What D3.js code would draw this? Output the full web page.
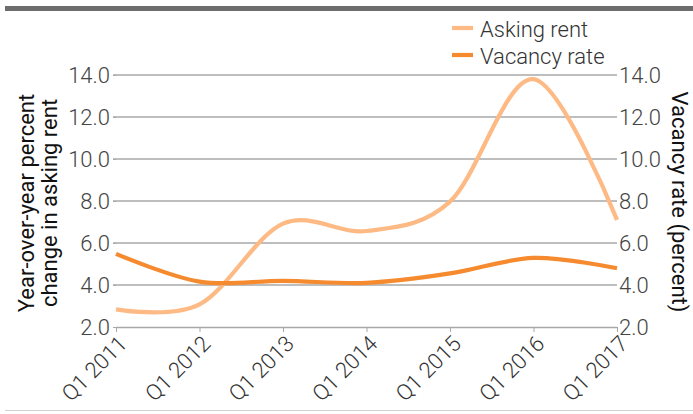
<!DOCTYPE html>
<html><head><meta charset="utf-8">
<script src="https://cdn.jsdelivr.net/npm/d3@7"></script>
<style>body{margin:0;background:#fff}svg{display:block}</style>
</head><body>
<script>
const categories = ["Q1 2011","Q1 2012","Q1 2013","Q1 2014","Q1 2015","Q1 2016","Q1 2017"];
const askingRent = [2.84, 3.08, 6.92, 6.57, 7.97, 13.8, 7.1];
const vacancyRate = [5.48, 4.16, 4.2, 4.1, 4.55, 5.29, 4.8];
const yTicks = [2, 4, 6, 8, 10, 12, 14];
const seriesNames = ["Asking rent", "Vacancy rate"];
const colors = ["#fdba84", "#f58a2f"];

const W = 693, H = 414;
const svg = d3.select("body").append("svg").attr("width", W).attr("height", H);
const font = "Roboto, 'Helvetica Neue', 'Liberation Sans', sans-serif";

svg.append("rect").attr("x", 5).attr("y", 6).attr("width", W - 5).attr("height", 5).attr("fill", "#6d6d6d");
svg.append("rect").attr("x", 5).attr("y", 410).attr("width", W - 5).attr("height", 1).attr("fill", "#d0d0d0");

const x = d3.scalePoint().domain(categories).range([116, 617]);
const yL = d3.scaleLinear().domain([2, 14]).range([327, 75]);
const yR = d3.scaleLinear().domain([2, 14]).range([327, 75]);

// grid
svg.append("g").selectAll("line").data(yTicks.filter(d => d > 2)).join("line")
  .attr("x1", 113).attr("x2", 617).attr("y1", d => yL(d)).attr("y2", d => yL(d))
  .attr("stroke", "#a8a8a8").attr("stroke-width", 1.3);

// x axis
const xAxis = svg.append("g").attr("transform", "translate(0,327)")
  .call(d3.axisBottom(x).tickSize(5).tickSizeOuter(0));
xAxis.select(".domain").attr("stroke", "#a8a8a8").attr("stroke-width", 1.3);
xAxis.selectAll(".tick line").attr("stroke", "#a8a8a8");
xAxis.selectAll(".tick text")
  .attr("font-family", font).attr("font-weight", 300).attr("font-size", 22).attr("fill", "#333")
  .attr("text-anchor", "end").attr("x", 0).attr("y", 0).attr("dy", 0)
  .attr("transform", "translate(12,18) rotate(-45)");

// left axis
const yAxisL = svg.append("g").attr("transform", "translate(116,0)")
  .call(d3.axisLeft(yL).tickValues(yTicks).tickFormat(d3.format(".1f")).tickSize(3).tickPadding(3));
yAxisL.select(".domain").remove();
yAxisL.selectAll(".tick line").attr("stroke", "#a8a8a8");
yAxisL.selectAll(".tick text").attr("font-family", font).attr("font-weight", 300).attr("font-size", 22).attr("fill", "#444");

// right axis
const yAxisR = svg.append("g").attr("transform", "translate(617,0)")
  .call(d3.axisRight(yR).tickValues(yTicks).tickFormat(d3.format(".1f")).tickSize(0).tickPadding(2));
yAxisR.select(".domain").remove();
yAxisR.selectAll(".tick text").attr("font-family", font).attr("font-weight", 300).attr("font-size", 22).attr("fill", "#444");

// axis titles
const lt = svg.append("text").attr("transform", "translate(0,203) rotate(-90)")
  .attr("text-anchor", "middle").attr("font-family", font).attr("font-size", 22).attr("fill", "#111");
lt.append("tspan").attr("x", 0).attr("y", 34).text("Year-over-year percent");
lt.append("tspan").attr("x", 0).attr("y", 57).text("change in asking rent");
svg.append("text").attr("transform", "translate(672,202) rotate(90)")
  .attr("text-anchor", "middle").attr("font-family", font).attr("font-size", 22).attr("fill", "#111")
  .text("Vacancy rate (percent)");

// lines
const line = (scale) => d3.line().x((d, i) => x(categories[i])).y(d => scale(d)).curve(d3.curveCardinal.tension(0));
svg.append("path").datum(askingRent).attr("d", line(yL))
  .attr("fill", "none").attr("stroke", colors[0]).attr("stroke-width", 4.2);
svg.append("path").datum(vacancyRate).attr("d", line(yR))
  .attr("fill", "none").attr("stroke", colors[1]).attr("stroke-width", 4.2);

// legend
const lg = svg.append("g").selectAll("g").data(seriesNames).join("g")
  .attr("transform", (d, i) => `translate(452,${28 + i * 27})`);
lg.append("line").attr("x1", 0).attr("x2", 21).attr("y1", 0).attr("y2", 0)
  .attr("stroke", (d, i) => colors[i]).attr("stroke-width", 4.2);
lg.append("text").attr("x", 28).attr("y", 9).text(d => d)
  .attr("font-family", font).attr("font-weight", 300).attr("font-size", 22).attr("fill", "#333");
</script>
</body></html>
